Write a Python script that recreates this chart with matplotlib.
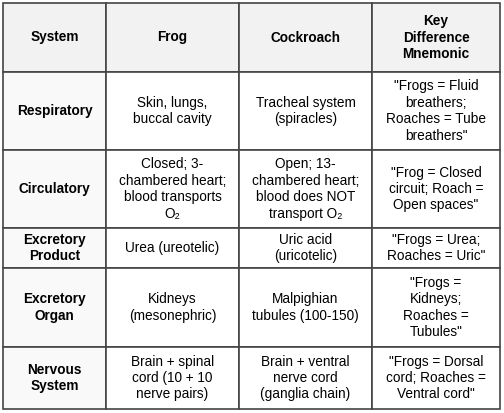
import matplotlib
matplotlib.use("Agg")
import matplotlib.pyplot as plt
from matplotlib.patches import Rectangle

headers = ["System", "Frog", "Cockroach", "Key\nDifference\nMnemonic"]
systems = ["Respiratory", "Circulatory", "Excretory\nProduct", "Excretory\nOrgan", "Nervous\nSystem"]
frog = ["Skin, lungs,\nbuccal cavity",
        "Closed; 3-\nchambered heart;\nblood transports\nO₂",
        "Urea (ureotelic)",
        "Kidneys\n(mesonephric)",
        "Brain + spinal\ncord (10 + 10\nnerve pairs)"]
cockroach = ["Tracheal system\n(spiracles)",
             "Open; 13-\nchambered heart;\nblood does NOT\ntransport O₂",
             "Uric acid\n(uricotelic)",
             "Malpighian\ntubules (100-150)",
             "Brain + ventral\nnerve cord\n(ganglia chain)"]
mnemonic = ["\"Frogs = Fluid\nbreathers;\nRoaches = Tube\nbreathers\"",
            "\"Frog = Closed\ncircuit; Roach =\nOpen spaces\"",
            "\"Frogs = Urea;\nRoaches = Uric\"",
            "\"Frogs =\nKidneys;\nRoaches =\nTubules\"",
            "\"Frogs = Dorsal\ncord; Roaches =\nVentral cord\""]

W, H = 504, 413
col_x = [3, 106, 239, 372, 500]
row_y = [3, 72, 150, 228, 268, 347, 409]

fig = plt.figure(figsize=(W/100, H/100), dpi=100)
ax = fig.add_axes([0, 0, 1, 1])
ax.set_xlim(0, W); ax.set_ylim(H, 0); ax.axis("off")
plt.rcParams['font.family'] = ['Liberation Sans', 'DejaVu Sans']

rows = [headers] + [[systems[i], frog[i], cockroach[i], mnemonic[i]] for i in range(len(systems))]
for r, row in enumerate(rows):
    y0, y1 = row_y[r], row_y[r+1]
    for c, txt in enumerate(row):
        x0, x1 = col_x[c], col_x[c+1]
        fc = "#f2f2f2" if r == 0 else ("#f9f9f9" if c == 0 else "white")
        ax.add_patch(Rectangle((x0, y0), x1-x0, y1-y0, facecolor=fc, edgecolor="#444444", lw=1.2))
        bold = (r == 0 or c == 0)
        ax.text((x0+x1)/2, (y0+y1)/2, txt, ha="center", va="center",
                fontsize=9.8, fontweight="bold" if bold else "normal",
                color="black", linespacing=1.22)

fig.savefig("out.png", dpi=100)
